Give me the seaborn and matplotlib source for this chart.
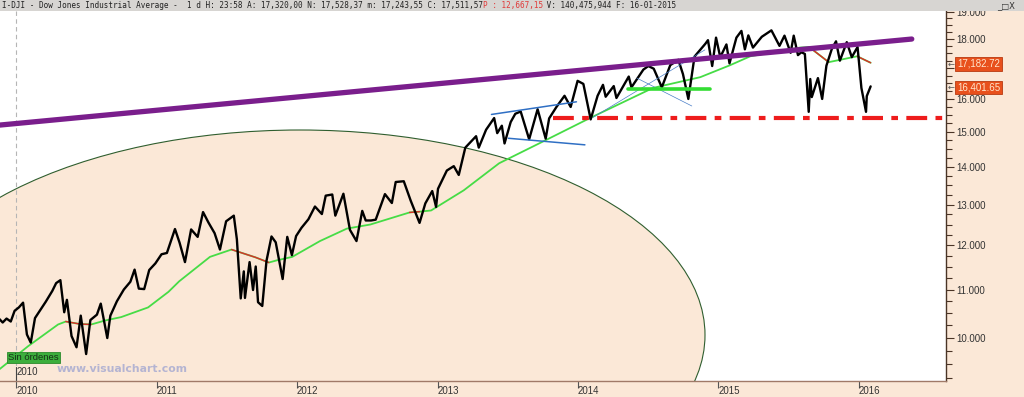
import matplotlib
matplotlib.use("Agg")
import numpy as np
import pandas as pd
import matplotlib.pyplot as plt
import matplotlib.ticker as mticker
import seaborn as sns
from matplotlib.patches import Ellipse, Rectangle

# ---------------- data ----------------
price_dates = [
    "2009-11-16", "2009-11-27", "2009-12-07", "2009-12-18", "2009-12-28",
    "2010-01-08", "2010-01-19", "2010-01-29", "2010-02-08", "2010-02-19",
    "2010-03-05", "2010-03-19", "2010-04-05", "2010-04-15", "2010-04-26",
    "2010-05-06", "2010-05-13", "2010-05-25", "2010-06-07", "2010-06-18",
    "2010-07-02", "2010-07-13", "2010-07-30", "2010-08-09", "2010-08-26",
    "2010-09-03", "2010-09-20", "2010-10-08", "2010-10-25", "2010-11-05",
    "2010-11-16", "2010-11-30", "2010-12-13", "2010-12-29", "2011-01-14",
    "2011-01-28", "2011-02-18", "2011-03-02", "2011-03-16", "2011-04-01",
    "2011-04-18", "2011-05-02", "2011-05-16", "2011-06-01", "2011-06-15",
    "2011-07-01", "2011-07-21", "2011-07-29", "2011-08-08", "2011-08-16",
    "2011-08-19", "2011-08-31", "2011-09-09", "2011-09-16", "2011-09-22",
    "2011-10-03", "2011-10-14", "2011-10-27", "2011-11-07", "2011-11-25",
    "2011-12-07", "2011-12-19", "2011-12-30", "2012-01-13", "2012-01-31",
    "2012-02-17", "2012-03-06", "2012-03-16", "2012-04-02", "2012-04-10",
    "2012-05-01", "2012-05-18", "2012-06-04", "2012-06-19", "2012-06-28",
    "2012-07-12", "2012-07-24", "2012-08-17", "2012-09-04", "2012-09-14",
    "2012-10-05", "2012-10-23", "2012-11-15", "2012-11-30", "2012-12-18",
    "2012-12-28", "2013-01-02", "2013-01-25", "2013-02-12", "2013-02-25",
    "2013-03-14", "2013-04-11", "2013-04-18", "2013-05-07", "2013-05-28",
    "2013-06-05", "2013-06-17", "2013-06-24", "2013-07-10", "2013-07-22",
    "2013-08-05", "2013-08-27", "2013-09-18", "2013-10-09", "2013-10-18",
    "2013-11-06", "2013-11-27", "2013-12-13", "2013-12-31", "2014-01-15",
    "2014-02-03", "2014-02-21", "2014-03-07", "2014-03-14", "2014-04-04",
    "2014-04-11", "2014-05-13", "2014-05-20", "2014-06-20", "2014-07-03",
    "2014-07-17", "2014-08-07", "2014-08-29", "2014-09-19", "2014-10-01",
    "2014-10-15", "2014-10-31", "2014-11-28", "2014-12-05", "2014-12-16",
    "2014-12-26", "2015-01-06", "2015-01-22", "2015-01-30", "2015-02-17",
    "2015-03-02", "2015-03-11", "2015-03-20", "2015-04-01", "2015-04-24",
    "2015-05-19", "2015-06-09", "2015-06-22", "2015-07-08", "2015-07-16",
    "2015-07-27", "2015-08-05", "2015-08-14", "2015-08-24", "2015-08-28",
    "2015-09-01", "2015-09-17", "2015-09-28", "2015-10-09", "2015-10-23",
    "2015-11-03", "2015-11-13", "2015-12-01", "2015-12-14", "2015-12-29",
    "2016-01-08", "2016-01-20", "2016-01-22", "2016-02-01",
]
price_close = [
    10400, 10310, 10390, 10330, 10550,
    10620, 10720, 10070, 9910, 10400,
    10570, 10740, 10970, 11140, 11205,
    10520, 10780, 10040, 9820, 10450,
    9690, 10360, 10470, 10700, 10000,
    10450, 10750, 11000, 11170, 11440,
    11020, 11010, 11430, 11580, 11790,
    11820, 12390, 12060, 11610, 12380,
    12200, 12810, 12550, 12290, 11900,
    12580, 12720, 12140, 10810, 11400,
    10820, 11610, 10990, 11510, 10730,
    10650, 11640, 12210, 12070, 11230,
    12200, 11770, 12220, 12420, 12630,
    12950, 12760, 13230, 13260, 12720,
    13280, 12370, 12100, 12840, 12600,
    12600, 12620, 13270, 13040, 13590,
    13610, 13100, 12540, 13030, 13350,
    12940, 13410, 13900, 14020, 13780,
    14540, 14870, 14540, 15060, 15410,
    14960, 15180, 14660, 15290, 15540,
    15610, 14780, 15680, 14800, 15400,
    15750, 16100, 15750, 16580, 16480,
    15370, 16100, 16450, 16070, 16410,
    16030, 16720, 16370, 16950, 17070,
    16980, 16370, 17100, 17280, 16800,
    16000, 17390, 17830, 17960, 17070,
    18050, 17370, 17810, 17160, 18050,
    18290, 17640, 18130, 17700, 18080,
    18310, 17760, 18120, 17520, 18120,
    17440, 17540, 17480, 15600, 16640,
    16060, 16670, 16000, 17080, 17650,
    17920, 17250, 17890, 17370, 17720,
    16350, 15600, 16090, 16400,
]

ma_dates = [
    "2009-11-16", "2010-02-01", "2010-04-20", "2010-05-10", "2010-06-15",
    "2010-07-15", "2010-08-20", "2010-10-01", "2010-12-10", "2011-02-01",
    "2011-03-01", "2011-05-20", "2011-07-15", "2011-09-15", "2011-10-20",
    "2011-11-10", "2011-12-20", "2012-03-01", "2012-05-10", "2012-07-10",
    "2012-10-20", "2012-11-15", "2012-12-15", "2013-03-10", "2013-06-10",
    "2013-10-10", "2014-02-01", "2014-07-15", "2014-11-15", "2015-02-01",
    "2015-03-25", "2015-08-01", "2015-08-25", "2015-10-15", "2015-12-28",
    "2016-02-01",
]
ma_values = [
    9390, 9840, 10270, 10330, 10280,
    10270, 10350, 10420, 10620, 10950,
    11180, 11730, 11900, 11720, 11600,
    11650, 11730, 12100, 12400, 12500,
    12800, 12820, 12850, 13370, 14100,
    14760, 15410, 16350, 16700, 17100,
    17400, 17700, 17720, 17200, 17400,
    17180,
]
ma_red_spans = [
    ("2010-05-10", "2010-07-15"),
    ("2011-07-15", "2011-10-20"),
    ("2012-10-20", "2012-11-15"),
    ("2015-08-25", "2015-10-15"),
    ("2015-12-28", "2016-02-01"),
]

resistance_dates = ["2009-11-20", "2016-05-18"]
resistance_values = [15200, 18000]
support_dates = ["2013-10-28", "2016-08-15"]
support_values = [15410, 15410]
channel_up_dates = ["2013-05-21", "2013-12-28"]
channel_up_values = [15520, 15910]
channel_lo_dates = ["2013-07-04", "2014-01-19"]
channel_lo_values = [14810, 14620]
thin_up_dates = ["2014-02-09", "2014-11-27"]
thin_up_values = [15430, 17620]
thin_dn_dates = ["2014-06-03", "2014-10-24"]
thin_dn_values = [16670, 15780]
flat_dates = ["2014-05-11", "2014-12-10"]
flat_values = [16320, 16320]

year_ticks = ["2010", "2011", "2012", "2013", "2014", "2015", "2016"]
y_ticks = [10000, 11000, 12000, 13000, 14000, 15000, 16000, 17000, 18000, 19000]
y_hidden = [17000]  # label covered by the last-value box in the reference
last_labels = ["17,182.72", "16,401.65"]

# ---------------- style ----------------
sns.set_style("white")
plt.rcParams['font.family'] = ['Liberation Sans', 'DejaVu Sans']

W, H = 1024, 397
PEACH = "#fbe8d7"
fig = plt.figure(figsize=(W / 100, H / 100), dpi=100)
fig.patch.set_facecolor(PEACH)

def fx(px):
    return px / W

def fy(py):
    return 1 - py / H

ax_top, ax_bot, ax_right = 11, 381, 946
ax = fig.add_axes([0, fy(ax_bot), fx(ax_right), (ax_bot - ax_top) / H])
ax.set_facecolor("white")

# big ellipse drawing
ell = Ellipse((300 / 946, (381 - 335) / 370), 810 / 946, 410 / 370,
              transform=ax.transAxes, facecolor=PEACH, edgecolor="#2f5e2f",
              lw=0.8, zorder=0.5)
ax.add_patch(ell)

price = pd.DataFrame({"date": pd.to_datetime(price_dates), "close": price_close})
ma = pd.DataFrame({"date": pd.to_datetime(ma_dates), "ma": ma_values})

sns.lineplot(data=ma, x="date", y="ma", color="#46dc46", lw=1.3, ax=ax,
             estimator=None, zorder=2)
for s, e in ma_red_spans:
    sub = ma[(ma["date"] >= pd.Timestamp(s)) & (ma["date"] <= pd.Timestamp(e))]
    sns.lineplot(data=sub, x="date", y="ma", color="#dd2a2a", lw=1.0, ax=ax,
                 estimator=None, zorder=2.1)

sns.lineplot(data=price, x="date", y="close", color="black", lw=1.7, ax=ax,
             estimator=None, zorder=3)

def seg(dates, vals, **kw):
    d = pd.DataFrame({"date": pd.to_datetime(dates), "v": vals})
    sns.lineplot(data=d, x="date", y="v", ax=ax, estimator=None, **kw)

seg(channel_up_dates, channel_up_values, color="#2f6fc4", lw=1.1, zorder=4)
seg(channel_lo_dates, channel_lo_values, color="#2f6fc4", lw=1.1, zorder=4)
seg(thin_up_dates, thin_up_values, color="#4a7fc8", lw=0.5, zorder=4)
seg(thin_dn_dates, thin_dn_values, color="#4a7fc8", lw=0.5, zorder=4)
seg(flat_dates, flat_values, color="#33dd33", lw=2.6, zorder=4)
seg(resistance_dates, resistance_values, color="#7a1e8c", lw=3.8, zorder=5)
seg(support_dates, support_values, color="#ee1c1c", lw=3.0, zorder=5)
ax.lines[-1].set_dashes((5, 2, 1.6, 2))

# dashed vertical at 2010
ax.axvline(pd.Timestamp("2010-01-01"), color="#b5b5b5", lw=0.8,
           ls=(0, (4, 3)), zorder=1)

ax.set_yscale("log")
ax.set_ylim(9190, 19020)
ax.set_xlim(pd.Timestamp("2009-11-20"), pd.Timestamp("2016-08-15"))

# axes / ticks
for side in ["left", "top"]:
    ax.spines[side].set_visible(False)
ax.spines["right"].set_color("#4a3426")
ax.spines["right"].set_linewidth(1.0)
ax.spines["bottom"].set_color("#a07a68")
ax.spines["bottom"].set_linewidth(1.0)

ax.yaxis.tick_right()
ax.yaxis.set_major_locator(mticker.FixedLocator(y_ticks))
ax.yaxis.set_major_formatter(mticker.FuncFormatter(
    lambda v, p: "" if int(round(v)) in y_hidden else f"{int(round(v / 1000))}.000"))
minor = [v for v in np.arange(9250, 19001, 250) if v % 1000 != 0]
ax.yaxis.set_minor_locator(mticker.FixedLocator(minor))
ax.yaxis.set_minor_formatter(mticker.NullFormatter())
ax.tick_params(axis="y", which="major", direction="out", length=6, width=0.8,
               color="#4a3426", labelsize=7, labelcolor="#333333", pad=1.5,
               left=False, right=True)
ax.tick_params(axis="y", which="minor", direction="out", length=4, width=0.8,
               color="#4a3426", left=False, right=True)

ax.set_xticks(pd.to_datetime([y + "-01-01" for y in year_ticks]))
ax.set_xticklabels(year_ticks, ha="left")
ax.tick_params(axis="x", which="major", direction="out", length=5, width=0.8,
               color="#555555", labelsize=7, labelcolor="#333333", pad=-1.5,
               bottom=True)
ax.xaxis.set_minor_locator(mticker.NullLocator())
ax.set_xlabel("")
ax.set_ylabel("")
ax.grid(False)

# in-plot labels
ax.text(pd.Timestamp("2010-01-03"), 9260, "2010", fontsize=7, color="#333333",
        ha="left", va="bottom", zorder=6)
ax.plot([pd.Timestamp("2010-01-01")] * 2, [9200, 9450], color="#444444", lw=0.8,
        zorder=6)

# watermark and "Sin órdenes"
fig.text(fx(57), fy(369), "www.visualchart.com", fontsize=7.8, fontweight="bold",
         color="#b4b4d2", family="DejaVu Sans", ha="left", va="center")
fig.text(fx(8), fy(357.5), "Sin órdenes", fontsize=6.8, color="#153015",
         ha="left", va="center",
         bbox=dict(boxstyle="square,pad=0.15", facecolor="#3cae3c", edgecolor="#2b8a2b", lw=0.6))

# last-value boxes
for lbl, py in zip(last_labels, [64, 87.5]):
    fig.text(fx(957), fy(py), lbl, fontsize=7, color="#ffe6cc", ha="left",
             va="center", zorder=10,
             bbox=dict(boxstyle="square,pad=0.2", facecolor="#e8501c", edgecolor="#b83a10", lw=0.6))
    fig.text(fx(948), fy(py), "←", fontsize=6, color="#555555", ha="left",
             va="center", family="DejaVu Sans", zorder=10)

# title bar
fig.patches.append(Rectangle((0, fy(11)), 1, 11 / H, transform=fig.transFigure,
                             facecolor="#d7d5d2", edgecolor="none", zorder=8))
CW = 4.58
parts = [
    ("I-DJI - Dow Jones Industrial Average -  1 d H: 23:58 A: 17,320,00 N: 17,528,37 m: 17,243,55 C: 17,511,57 ", "#222222"),
    ("P : 12,667,15", "#e03a3a"),
    (" V: 140,475,944 F: 16-01-2015", "#222222"),
]
n = 0
for txt, col in parts:
    fig.text(fx(2 + n * CW), fy(5.5), txt, fontsize=5.5, color=col,
             family="DejaVu Sans Mono", ha="left", va="center", zorder=9)
    n += len(txt)
fig.text(fx(1015), fy(5.5), "_□X", fontsize=6, color="#333333",
         family="DejaVu Sans", ha="right", va="center", zorder=9)

fig.savefig("out.png", dpi=100, facecolor=fig.get_facecolor())
